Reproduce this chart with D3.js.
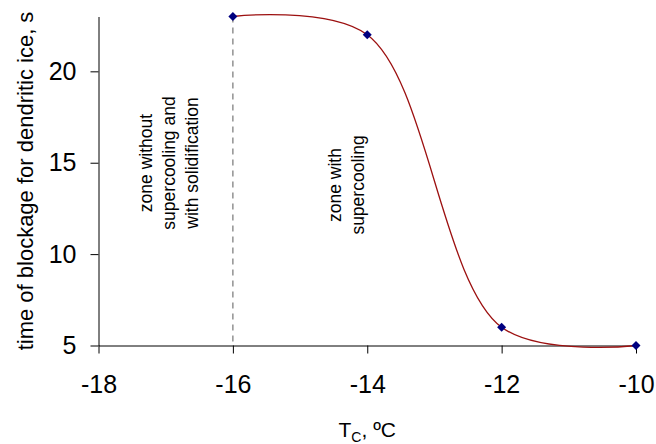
<!DOCTYPE html>
<html>
<head>
<meta charset="utf-8">
<script src="https://cdn.jsdelivr.net/npm/d3@7"></script>
<style>
  html, body { margin: 0; padding: 0; background: #fff; }
  svg { display: block; font-family: "Liberation Sans", Arial, sans-serif; }
</style>
</head>
<body>
<svg id="chart" width="656" height="444"></svg>
<script>
// ---- data ----
const temps = [-16, -14, -12, -10];
const times = [23, 22, 6, 5];
const xTicks = [-18, -16, -14, -12, -10];
const yTicks = [5, 10, 15, 20];
const xDomain = [-18, -10];
const yDomain = [5, 23];
const boundaryT = -16;
const xTitle = ["T", "C", ", ºC"];
const yTitle = "time of blockage for dendritic ice, s";
const leftNote = ["zone without", "supercooling and", "with solidification"];
const rightNote = ["zone with", "supercooling"];

// ---- layout ----
const svg = d3.select("#chart");
const x = d3.scaleLinear().domain(xDomain).range([98.5, 636]);
const y = d3.scaleLinear().domain(yDomain).range([345.5, 16.5]);
const FONT = "Liberation Sans, Arial, sans-serif";

// dashed boundary line
svg.append("line")
  .attr("x1", x(boundaryT)).attr("x2", x(boundaryT))
  .attr("y1", y(yDomain[1])).attr("y2", y(yDomain[0]))
  .attr("stroke", "#808080").attr("stroke-width", 1.3)
  .attr("stroke-dasharray", "6,5");

// axes
const yAxis = svg.append("g")
  .attr("transform", `translate(${x(xDomain[0])},0)`)
  .call(d3.axisLeft(y).tickValues(yTicks).tickSize(8).tickSizeOuter(0).tickPadding(14).tickFormat(d3.format("d")));
const xAxis = svg.append("g")
  .attr("transform", `translate(0,${y(yDomain[0])})`)
  .call(d3.axisBottom(x).tickValues(xTicks).tickSize(8).tickSizeOuter(0).tickPadding(22).tickFormat(d => d3.format("d")(d).replace("−", "-")));
[xAxis, yAxis].forEach(g => {
  g.attr("font-family", FONT).attr("font-size", 25);
  g.selectAll("path, line").attr("stroke", "#000").attr("stroke-width", 1);
  g.selectAll("text").attr("fill", "#000");
});

// smoothed line
const line = d3.line()
  .x((d, i) => x(temps[i]))
  .y(d => y(d))
  .curve(d3.curveCatmullRom.alpha(0.5));
svg.append("path")
  .datum(times)
  .attr("d", line)
  .attr("fill", "none")
  .attr("stroke", "#9c1010")
  .attr("stroke-width", 1.3);

// markers (diamonds)
svg.selectAll(".pt").data(times).enter().append("path")
  .attr("class", "pt")
  .attr("d", d3.symbol().type(d3.symbolSquare).size(40))
  .attr("transform", (d, i) => `translate(${x(temps[i])},${y(d)}) rotate(45)`)
  .attr("fill", "#000080");

// axis titles
svg.append("text")
  .attr("transform", `translate(33,${(y(yDomain[0]) + y(yDomain[1])) / 2}) rotate(-90)`)
  .attr("text-anchor", "middle")
  .attr("font-family", FONT).attr("font-size", 22)
  .text(yTitle);

const xt = svg.append("text")
  .attr("x", (x(xDomain[0]) + x(xDomain[1])) / 2)
  .attr("y", 436.5)
  .attr("text-anchor", "middle")
  .attr("font-family", FONT).attr("font-size", 21);
xt.append("tspan").text(xTitle[0]);
xt.append("tspan").attr("font-size", 14).attr("dy", 5).text(xTitle[1]);
xt.append("tspan").attr("dy", -5).text(xTitle[2]);

// annotations
function note(lines, cy, baselines) {
  lines.forEach((t, i) => {
    svg.append("text")
      .attr("transform", `translate(${baselines[i]},${cy}) rotate(-90)`)
      .attr("text-anchor", "middle")
      .attr("font-family", FONT).attr("font-size", 17.5)
      .text(t);
  });
}
note(leftNote, 163, [152, 175, 198]);
note(rightNote, 185, [341, 364]);
</script>
</body>
</html>
